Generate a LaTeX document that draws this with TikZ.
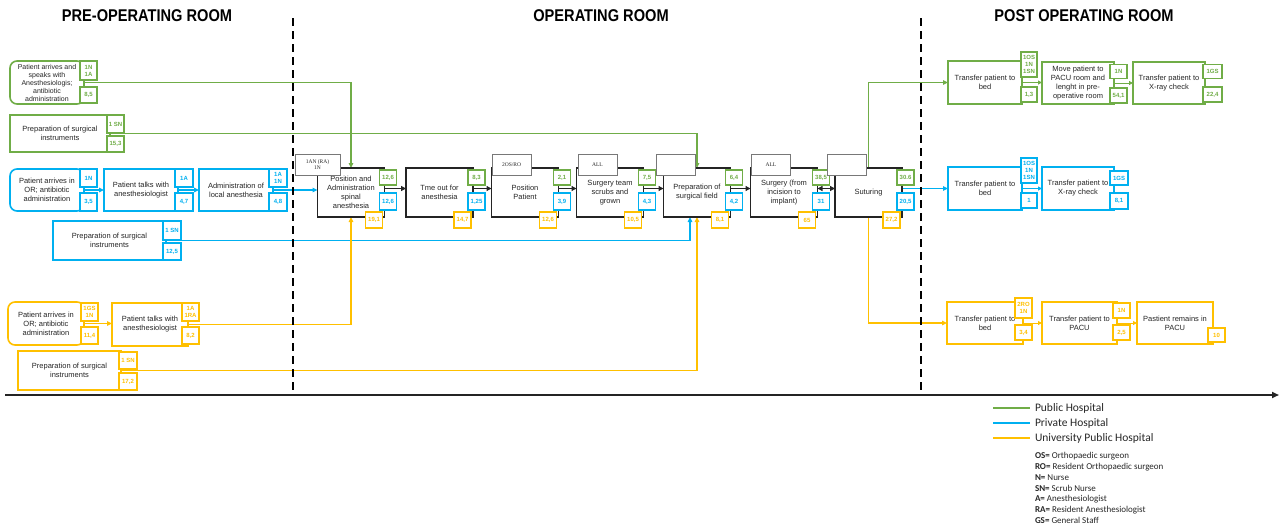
\documentclass[tikz,border=0pt]{standalone}
\usepackage{fontspec}
\setmainfont{Liberation Sans}
\newfontfamily\legendfont{Carlito}
\newfontfamily\labelfont{Liberation Serif}
\usetikzlibrary{arrows.meta}
\definecolor{pubg}{RGB}{112,173,71}
\definecolor{privb}{RGB}{0,176,240}
\definecolor{univy}{RGB}{255,192,0}
\definecolor{ink}{RGB}{38,38,38}
\definecolor{frame}{RGB}{36,36,36}
\definecolor{lblgray}{RGB}{120,120,120}
\pgfdeclarelayer{background}
\pgfsetlayers{background,main}

% one operating-room step: name, x centre, text, green / blue / yellow figures
\newcommand\orstep[6]{%
  \node[orbox] (#1) at (#2,192.5) {#3};
  \node[tagbox=pubg, minimum width=17pt, minimum height=15pt] (#1g) at ([xshift=3.5pt,yshift=15pt]#1.east) {#4};
  \node[tagbox=privb, minimum width=17pt, minimum height=17pt] (#1b) at ([xshift=3.5pt,yshift=-9pt]#1.east) {#5};
  \node[tagbox=univy, minimum width=17pt, minimum height=16pt] (#1y) at ([xshift=-10.5pt,yshift=-3pt]#1.south east) {#6};
}
% condensed heading text
\newcommand\narrowhead[1]{\scalebox{0.86}[1]{#1}}

\begin{document}
\begin{tikzpicture}[x=1pt,y=-1pt,
  every node/.style={inner sep=0pt, outer sep=0pt},
  head/.style={font=\bfseries\fontsize{17}{19}\selectfont, text=black},
  taskbox/.style={draw=#1, line width=1.6pt, fill=white, align=center, text=ink, font=\fontsize{7.5}{9}\selectfont},
  startbox/.style={taskbox=#1, rounded corners=7pt},
  orbox/.style={draw=frame, line width=1.8pt, fill=white, align=center, text=ink, font=\fontsize{7.5}{9}\selectfont, minimum width=67pt, minimum height=49pt},
  tagbox/.style={draw=#1, line width=1.3pt, fill=white, text=#1, align=center, font=\bfseries\fontsize{6}{7}\selectfont},
  lblbox/.style={draw=lblgray, line width=0.6pt, fill=white, text=ink, align=center, font=\labelfont\fontsize{5.5}{6}\selectfont, minimum width=39pt, minimum height=21pt},
  linkline/.style={draw=#1, line width=1.4pt, -{Triangle[length=5pt,width=4.5pt]}},
  postline/.style={draw=#1, line width=1pt, -{Triangle[length=4pt,width=4pt]}},
  flowline/.style={draw=frame, line width=1.8pt, -{Triangle[length=5pt,width=5pt]}},
  divider/.style={draw=black, line width=2pt, dash pattern=on 8pt off 5pt},
  legtext/.style={font=\legendfont\fontsize{11.5}{13}\selectfont, text=ink, anchor=west}
]
\useasboundingbox (0,0) rectangle (1280,525);

% section headings
\node[head] (hpre) at (147,16) {\narrowhead{PRE-OPERATING ROOM}};
\node[head] (hor) at (601,16) {\narrowhead{OPERATING ROOM}};
\node[head] (hpost) at (1084,16) {\narrowhead{POST OPERATING ROOM}};

% ---------- pre-operating room ----------
% public hospital
\node[startbox=pubg, minimum width=74pt, minimum height=43pt, font=\fontsize{7}{8}\selectfont] (g1) at (47,82.5) {Patient arrives and\\speaks with\\Anesthesiologis;\\antibiotic\\administration};
\node[tagbox=pubg, minimum width=17pt, minimum height=19pt] (g1n) at (88.5,70.5) {1N\\1A};
\node[tagbox=pubg, minimum width=17pt, minimum height=16pt] (g1t) at (88.5,95) {8,5};
\node[taskbox=pubg, minimum width=100pt, minimum height=37pt] (g2) at (60,133.5) {Preparation of surgical\\instruments};
\node[tagbox=pubg, minimum width=17pt, minimum height=18pt] (g2n) at (115.5,124) {1 SN};
\node[tagbox=pubg, minimum width=17pt, minimum height=16pt] (g2t) at (115.5,144) {15,3};

% private hospital
\node[startbox=privb, minimum width=74pt, minimum height=42pt] (b1) at (47,190) {Patient arrives in\\OR; antibiotic\\administration};
\node[tagbox=privb, minimum width=17pt, minimum height=18pt] (b1n) at (88.5,178) {1N};
\node[tagbox=privb, minimum width=17pt, minimum height=18pt] (b1t) at (88.5,202) {3,5};
\node[taskbox=privb, minimum width=74pt, minimum height=42pt] (b2) at (141,190) {Patient talks with\\anesthesiologist};
\node[tagbox=privb, minimum width=18pt, minimum height=18pt] (b2n) at (184,178) {1A};
\node[tagbox=privb, minimum width=18pt, minimum height=18pt] (b2t) at (184,202) {4,7};
\node[taskbox=privb, minimum width=74pt, minimum height=42pt] (b3) at (236,190) {Administration of\\local anesthesia};
\node[tagbox=privb, minimum width=18pt, minimum height=18pt] (b3n) at (278,178) {1A\\1N};
\node[tagbox=privb, minimum width=18pt, minimum height=18pt] (b3t) at (278,202) {4,8};
\node[taskbox=privb, minimum width=113pt, minimum height=39pt] (b4) at (109.5,240.5) {Preparation of surgical\\instruments};
\node[tagbox=privb, minimum width=18pt, minimum height=19pt] (b4n) at (172,230.5) {1 SN};
\node[tagbox=privb, minimum width=18pt, minimum height=17pt] (b4t) at (172,251.5) {12,5};

% university public hospital
\node[startbox=univy, minimum width=76pt, minimum height=43pt] (y1) at (46,323.5) {Patient arrives in\\OR; antibiotic\\administration};
\node[tagbox=univy, minimum width=17pt, minimum height=18pt] (y1n) at (89.5,312) {1GS\\1N};
\node[tagbox=univy, minimum width=17pt, minimum height=17pt] (y1t) at (89.5,335.5) {11,4};
\node[taskbox=univy, minimum width=76pt, minimum height=43pt] (y2) at (150,324.5) {Patient talks with\\anesthesiologist};
\node[tagbox=univy, minimum width=17pt, minimum height=18pt] (y2n) at (190.5,312) {1A\\1RA};
\node[tagbox=univy, minimum width=17pt, minimum height=17pt] (y2t) at (190.5,335.5) {8,2};
\node[taskbox=univy, minimum width=103pt, minimum height=39pt] (y3) at (69.5,370.5) {Preparation of surgical\\instruments};
\node[tagbox=univy, minimum width=18pt, minimum height=17pt] (y3n) at (128,360.5) {1 SN};
\node[tagbox=univy, minimum width=18pt, minimum height=17pt] (y3t) at (128,381.5) {17,2};

% ---------- operating room ----------
\orstep{p1}{351}{Position and\\Administration\\spinal\\anesthesia}{12,6}{12,6}{19,1}
\orstep{p2}{439.5}{Tme out for\\anesthesia}{8,3}{1,25}{14,7}
\orstep{p3}{525}{Position\\Patient}{2,1}{3,9}{12,6}
\orstep{p4}{610}{Surgery team\\scrubs and\\grown}{7,5}{4,3}{10,5}
\orstep{p5}{697}{Preparation of\\surgical field}{6,4}{4,2}{8,1}
\orstep{p6}{784}{Surgery (from\\incision to\\implant)}{38,5}{31}{65}
\orstep{p7}{868.5}{Suturing}{30.6}{20,5}{27,2}

% staff labels above the steps
\node[lblbox, minimum width=45pt] (l1) at (317.5,164.5) {1AN (RA)\\1N};
\node[lblbox] (l3) at (511.5,164.5) {2OS/RO};
\node[lblbox] (l4) at (597.5,164.5) {ALL};
\node[lblbox] (l5) at (675.5,164.5) {};
\node[lblbox] (l6) at (771,164.5) {ALL};
\node[lblbox] (l7) at (846.5,164.5) {};

% ---------- post operating room ----------
\node[taskbox=pubg, minimum width=74pt, minimum height=43pt] (pg1) at (985,82.5) {Transfer patient to\\bed};
\node[tagbox=pubg, minimum width=16pt, minimum height=25pt] (pg1n) at (1029,64.5) {1OS\\1N\\1SN};
\node[tagbox=pubg, minimum width=16pt, minimum height=15pt] (pg1t) at (1029,94.5) {1,3};
\node[taskbox=pubg, minimum width=72pt, minimum height=42pt] (pg2) at (1078,83) {Move patient to\\PACU room and\\lenght in pre-\\operative room};
\node[tagbox=pubg, minimum width=17pt, minimum height=14pt] (pg2n) at (1118.5,71.5) {1N};
\node[tagbox=pubg, minimum width=17pt, minimum height=15pt] (pg2t) at (1118.5,95.5) {54,1};
\node[taskbox=pubg, minimum width=72pt, minimum height=42pt] (pg3) at (1169,83) {Transfer patient to\\X-ray check};
\node[tagbox=pubg, minimum width=19pt, minimum height=14pt] (pg3n) at (1212.5,71.5) {1GS};
\node[tagbox=pubg, minimum width=19pt, minimum height=15pt] (pg3t) at (1212.5,94.5) {22,4};

\node[taskbox=privb, minimum width=74pt, minimum height=43pt] (pb1) at (985,188.5) {Transfer patient to\\bed};
\node[tagbox=privb, minimum width=16pt, minimum height=25pt] (pb1n) at (1029,170.5) {1OS\\1N\\1SN};
\node[tagbox=privb, minimum width=16pt, minimum height=15pt] (pb1t) at (1029,200.5) {1};
\node[taskbox=privb, minimum width=72pt, minimum height=43pt] (pb2) at (1078,188.5) {Transfer patient to\\X-ray check};
\node[tagbox=privb, minimum width=18pt, minimum height=14pt] (pb2n) at (1119,178) {1GS};
\node[tagbox=privb, minimum width=18pt, minimum height=16pt] (pb2t) at (1119,201) {8,1};

\node[taskbox=univy, minimum width=76pt, minimum height=42pt] (py1) at (985,323) {Transfer patient to\\bed};
\node[tagbox=univy, minimum width=17pt, minimum height=20pt] (py1n) at (1023.5,308) {2RO\\1N};
\node[tagbox=univy, minimum width=17pt, minimum height=15pt] (py1t) at (1023.5,332.5) {3,4};
\node[taskbox=univy, minimum width=75pt, minimum height=42pt] (py2) at (1079.5,323) {Transfer patient to\\PACU};
\node[tagbox=univy, minimum width=17pt, minimum height=15pt] (py2n) at (1121.5,310.5) {1N};
\node[tagbox=univy, minimum width=17pt, minimum height=15pt] (py2t) at (1121.5,332.5) {2,5};
\node[taskbox=univy, minimum width=76pt, minimum height=42pt] (py3) at (1175,323) {Pastient remains in\\PACU};
\node[tagbox=univy, minimum width=17pt, minimum height=14pt] (py3t) at (1216.5,335) {10};

% ---------- connectors ----------
\begin{pgfonlayer}{background}
  \draw[linkline=pubg] (g1.east) -| (p1.north);
  \draw[linkline=pubg] (g2.east) -| (p5.north);
  \draw[linkline=privb] (b1.east) -- (b2.west);
  \draw[linkline=privb] (b2.east) -- (b3.west);
  \draw[linkline=privb] (b3.east) -- (b3.east -| p1.west);
  \draw[linkline=privb] (b4.east) -| ([xshift=-7pt]p5.south);
  \draw[linkline=univy] (y1.east) -- (y1.east -| y2.west);
  \draw[linkline=univy] (y2.east) -| (p1.south);
  \draw[linkline=univy] (y3.east) -| (p5.south);

  \draw[flowline] ([yshift=4pt]p1.east) -- ([yshift=4pt]p2.west);
  \draw[flowline] ([yshift=4pt]p2.east) -- ([yshift=4pt]p3.west);
  \draw[flowline] ([yshift=4pt]p3.east) -- ([yshift=4pt]p4.west);
  \draw[flowline] ([yshift=4pt]p4.east) -- ([yshift=4pt]p5.west);
  \draw[flowline] ([yshift=4pt]p5.east) -- ([yshift=4pt]p6.west);
  \draw[flowline, {Triangle[length=5pt,width=5pt]}-{Triangle[length=5pt,width=5pt]}] ([yshift=4pt]p6.east) -- ([yshift=4pt]p7.west);

  \draw[linkline=pubg] (p7.north) |- (pg1.west);
  \draw[linkline=privb] (p7.east |- pb1.west) -- (pb1.west);
  \draw[linkline=univy] (p7.south) |- (py1.west);

  \draw[postline=pubg] (pg1.east) -- (pg1.east -| pg2.west);
  \draw[postline=pubg] (pg2.east) -- (pg2.east -| pg3.west);
  \draw[postline=privb] (pb1.east) -- (pb2.west);
  \draw[postline=univy] (py1.east) -- (py2.west);
  \draw[postline=univy] (py2.east) -- (py3.west);
\end{pgfonlayer}

% room dividers and time axis
\coordinate (d1t) at (293,18);
\coordinate (d1b) at (293,392);
\coordinate (d2t) at (921,18);
\coordinate (d2b) at (921,392);
\draw[divider] (d1t) -- (d1b);
\draw[divider] (d2t) -- (d2b);
\coordinate (ax0) at (5,395);
\coordinate (ax1) at (1279,395);
\draw[line width=2.2pt, draw=frame, -{Triangle[length=7pt,width=6pt]}] (ax0) -- (ax1);

% legend
\coordinate (lg1a) at (993,408); \coordinate (lg1b) at (1030,408);
\coordinate (lg2a) at (993,423); \coordinate (lg2b) at (1030,423);
\coordinate (lg3a) at (993,438); \coordinate (lg3b) at (1030,438);
\draw[pubg, line width=1.6pt] (lg1a) -- (lg1b);
\draw[privb, line width=1.6pt] (lg2a) -- (lg2b);
\draw[univy, line width=1.6pt] (lg3a) -- (lg3b);
\node[legtext] (lgt1) at (1035,408) {Public Hospital};
\node[legtext] (lgt2) at (1035,423) {Private Hospital};
\node[legtext] (lgt3) at (1035,438) {University Public Hospital};
\node[anchor=north west, align=left, text=ink, font=\legendfont\fontsize{9}{10.8}\selectfont] (abbr) at (1035,452.5)
  {\textbf{OS=} Orthopaedic surgeon\\
   \textbf{RO=} Resident Orthopaedic surgeon\\
   \textbf{N=} Nurse\\
   \textbf{SN=} Scrub Nurse\\
   \textbf{A=} Anesthesiologist\\
   \textbf{RA=} Resident Anesthesiologist\\
   \textbf{GS=} General Staff};
\end{tikzpicture}
\end{document}
